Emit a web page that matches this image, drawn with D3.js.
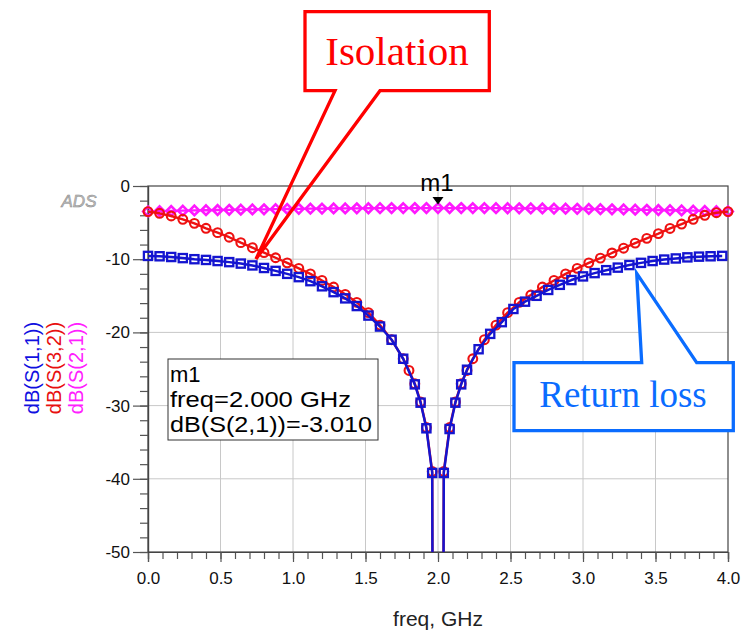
<!DOCTYPE html>
<html>
<head>
<meta charset="utf-8">
<script src="https://cdn.jsdelivr.net/npm/d3@7"></script>
<style>
  html, body { margin: 0; padding: 0; background: #fff; }
  svg { display: block; }
</style>
</head>
<body>
<svg id="chart" width="752" height="631"></svg>
<script>
// ---------------- DATA ----------------
// dB(S(1,1)) – return loss (blue squares)
const s11Freq = [0,0.08,0.16,0.24,0.32,0.40,0.48,0.56,0.64,0.72,0.80,0.88,0.96,1.04,1.12,1.20,1.28,1.36,1.44,1.52,1.60,1.68,1.76,1.84,
  1.88,1.92,1.96,2.00,2.04,2.08,2.12,2.16,2.20,
  2.28,2.36,2.44,2.52,2.60,2.68,2.76,2.84,2.92,3.00,3.08,3.16,3.24,3.32,3.40,3.48,3.56,3.64,3.72,3.80,3.88,3.96];
const s11dB = [-9.55,-9.6,-9.7,-9.85,-10.0,-10.1,-10.25,-10.4,-10.6,-10.85,-11.2,-11.6,-12.0,-12.45,-13.0,-13.7,-14.5,-15.35,-16.4,-17.7,-19.2,-21.0,-23.6,-27.1,
  -29.6,-33.1,-39.2,-300,-39.2,-33.2,-29.6,-27.1,-25.1,
  -22.3,-20.2,-18.6,-16.8,-15.8,-15.0,-14.2,-13.5,-12.85,-12.35,-11.9,-11.5,-11.15,-10.8,-10.5,-10.25,-10.05,-9.9,-9.75,-9.65,-9.6,-9.55];

// dB(S(3,2)) – isolation (red circles)
const s32Freq = [0,0.08,0.16,0.24,0.32,0.40,0.48,0.56,0.64,0.72,0.80,0.88,0.96,1.04,1.12,1.20,1.28,1.36,1.44,1.52,1.60,1.68,1.76,
  1.80,1.84,1.88,1.92,1.96,2.00,2.04,2.08,2.12,2.16,2.20,2.24,
  2.32,2.40,2.48,2.56,2.64,2.72,2.80,2.88,2.96,3.04,3.12,3.20,3.28,3.36,3.44,3.52,3.60,3.68,3.76,3.84,3.92,4.00];
const s32dB = [-3.5,-3.73,-4.1,-4.55,-5.1,-5.78,-6.37,-7.0,-7.74,-8.43,-9.1,-9.8,-10.5,-11.25,-12.0,-12.9,-13.8,-14.8,-15.9,-17.3,-19.0,-21.0,-23.6,
  -25.2,-27.0,-29.5,-33.0,-39.0,-300,-39.0,-33.0,-29.5,-27.0,-25.2,-23.6,
  -21.0,-19.0,-17.3,-15.9,-14.9,-13.8,-12.9,-12.0,-11.25,-10.5,-9.85,-9.15,-8.5,-7.8,-7.15,-6.5,-5.8,-5.2,-4.55,-4.0,-3.65,-3.5];

// dB(S(2,1)) – transmission (magenta diamonds)
const s21Freq = [0,0.08,0.16,0.24,0.32,0.40,0.48,0.56,0.64,0.72,0.80,0.88,0.96,1.04,1.12,1.20,1.28,1.36,1.44,1.52,1.60,1.68,1.76,1.84,1.92,
  2.00,2.08,2.16,2.24,2.32,2.40,2.48,2.56,2.64,2.72,2.80,2.88,2.96,3.04,3.12,3.20,3.28,3.36,3.44,3.52,3.60,3.68,3.76,3.84,3.92,4.00];
const s21dB = [-3.48,-3.44,-3.41,-3.37,-3.34,-3.31,-3.28,-3.25,-3.23,-3.20,-3.18,-3.16,-3.14,-3.12,-3.10,-3.09,-3.07,-3.06,-3.05,-3.04,-3.03,-3.02,-3.02,-3.01,-3.01,
  -3.01,-3.01,-3.01,-3.02,-3.02,-3.03,-3.04,-3.05,-3.06,-3.07,-3.09,-3.10,-3.12,-3.14,-3.16,-3.18,-3.20,-3.23,-3.25,-3.28,-3.31,-3.34,-3.37,-3.41,-3.44,-3.48];

const seriesNames = ["dB(S(1,1))", "dB(S(3,2))", "dB(S(2,1))"];
const xMajorTicks = [0,0.5,1.0,1.5,2.0,2.5,3.0,3.5,4.0];
const yMajorTicks = [0,-10,-20,-30,-40,-50];
const markerName = "m1";
const markerFreq = 2.0;
const markerValue = -3.010;
const markerLines = ["m1", "freq=2.000 GHz", "dB(S(2,1))=-3.010"];
const xTitle = "freq, GHz";
const calloutIso = "Isolation";
const calloutRL = "Return loss";

// ---------------- LAYOUT ----------------
const svg = d3.select("#chart");
const X0 = 148, X1 = 728, Y0 = 186, Y1 = 552;
const x = d3.scaleLinear().domain([0, 4]).range([X0, X1]);
const y = d3.scaleLinear().domain([-50, 0]).range([Y1, Y0]);
const sans = "'Liberation Sans', Arial, Helvetica, sans-serif";
const serif = "'Liberation Serif', 'Times New Roman', serif";

svg.append("rect").attr("width", 752).attr("height", 631).attr("fill", "#fff");

// grid
const grid = svg.append("g").attr("stroke", "#c8c8c8").attr("stroke-width", 1);
xMajorTicks.filter(d => d > 0 && d < 4).forEach(d => {
  grid.append("line").attr("x1", x(d)).attr("x2", x(d)).attr("y1", Y0).attr("y2", Y1);
});
yMajorTicks.filter(d => d < 0 && d > -50).forEach(d => {
  grid.append("line").attr("x1", X0).attr("x2", X1).attr("y1", y(d)).attr("y2", y(d));
});

// frame
svg.append("rect").attr("x", X0).attr("y", Y0).attr("width", X1 - X0).attr("height", Y1 - Y0)
  .attr("fill", "none").attr("stroke", "#444").attr("stroke-width", 1.2);

// axes
const xMinor = d3.range(0, 41).map(i => i / 10);
const yMinor = d3.range(0, 26).map(i => -i * 2);

const axX = svg.append("g").attr("transform", `translate(0,${Y1})`);
axX.call(d3.axisBottom(x).tickValues(xMinor).tickSize(7).tickFormat(""));
const axXMaj = svg.append("g").attr("transform", `translate(0,${Y1})`);
axXMaj.call(d3.axisBottom(x).tickValues(xMajorTicks).tickSize(10).tickPadding(10).tickFormat(d3.format(".1f")));
const axY = svg.append("g").attr("transform", `translate(${X0},0)`);
axY.call(d3.axisLeft(y).tickValues(yMinor).tickSize(8).tickFormat(""));
const axYMaj = svg.append("g").attr("transform", `translate(${X0},0)`);
axYMaj.call(d3.axisLeft(y).tickValues(yMajorTicks).tickSize(15).tickPadding(3).tickFormat(d => String(d)));

[axX, axXMaj, axY, axYMaj].forEach(g => {
  g.select(".domain").attr("stroke", "#444").attr("stroke-width", 1.2);
  g.selectAll(".tick line").attr("stroke", "#555").attr("stroke-width", 1.2);
  g.selectAll(".tick text").attr("font-family", sans).attr("font-size", 17).attr("fill", "#111");
});

// x title
svg.append("text").attr("x", x(2)).attr("y", 626).attr("text-anchor", "middle")
  .attr("font-family", sans).attr("font-size", 21).attr("fill", "#222").text(xTitle);

// ADS logo
svg.append("text").attr("x", 79).attr("y", 207).attr("text-anchor", "middle")
  .attr("font-family", sans).attr("font-size", 17).attr("font-style", "italic")
  .attr("fill", "#bdbdbd").attr("stroke", "#8a8a8a").attr("stroke-width", 0.5).text("ADS");

// y labels
const yLabColors = ["#1010e0", "#e81010", "#ff20ff"];
const yLabX = [39, 61, 83];
seriesNames.forEach((n, i) => {
  svg.append("text").attr("transform", `translate(${yLabX[i]},368) rotate(-90)`)
    .attr("text-anchor", "middle").attr("font-family", sans).attr("font-size", 20)
    .attr("fill", yLabColors[i]).text(n);
});

// clip
svg.append("defs").append("clipPath").attr("id", "plotclip")
  .append("rect").attr("x", X0 - 7).attr("y", Y0 - 7).attr("width", X1 - X0 + 14).attr("height", Y1 - Y0 + 7);

const plot = svg.append("g").attr("clip-path", "url(#plotclip)");
const line = d3.line().x(d => x(d[0])).y(d => y(d[1]));

function drawSeries(freqs, vals, color, lw, shape) {
  const data = freqs.map((f, i) => [f, vals[i]]);
  plot.append("path").datum(data).attr("d", line).attr("fill", "none")
    .attr("stroke", color).attr("stroke-width", lw).attr("stroke-linejoin", "round");
  const vis = data.filter(d => d[1] >= -50);
  const g = plot.append("g");
  if (shape === "square") {
    g.selectAll("rect").data(vis).join("rect")
      .attr("x", d => x(d[0]) - 4.1).attr("y", d => y(d[1]) - 4.1)
      .attr("width", 8.2).attr("height", 8.2)
      .attr("fill", "none").attr("stroke", color).attr("stroke-width", 2.3);
  } else if (shape === "circle") {
    g.selectAll("circle").data(vis).join("circle")
      .attr("cx", d => x(d[0])).attr("cy", d => y(d[1])).attr("r", 4.4)
      .attr("fill", "none").attr("stroke", color).attr("stroke-width", 2.1);
  } else {
    g.selectAll("path").data(vis).join("path")
      .attr("d", d => { const cx = x(d[0]), cy = y(d[1]), r = 4.8;
        return `M${cx},${cy - r}L${cx + r},${cy}L${cx},${cy + r}L${cx - r},${cy}Z`; })
      .attr("fill", "none").attr("stroke", color).attr("stroke-width", 2.6);
  }
}
drawSeries(s21Freq, s21dB, "#ff18ff", 2.3, "diamond");
drawSeries(s32Freq, s32dB, "#ee1111", 2.4, "circle");
drawSeries(s11Freq, s11dB, "#1414d0", 2.5, "square");

// marker m1
const mx = x(markerFreq), my = y(markerValue);
svg.append("path").attr("d", `M${mx - 5.5},${my - 11}L${mx + 5.5},${my - 11}L${mx},${my - 3.5}Z`).attr("fill", "#000");
svg.append("text").attr("x", mx - 1).attr("y", 191).attr("text-anchor", "middle")
  .attr("font-family", sans).attr("font-size", 24).attr("fill", "#000").text(markerName);

// marker readout box
svg.append("rect").attr("x", 168).attr("y", 359).attr("width", 210).attr("height", 81)
  .attr("fill", "#fff").attr("stroke", "#333").attr("stroke-width", 1);
const markerWidths = [null, 181, 202];
markerLines.forEach((t, i) => {
  const tx = svg.append("text").attr("x", 170).attr("y", 382 + i * 25)
    .attr("font-family", sans).attr("font-size", 22).attr("fill", "#000").text(t);
  if (markerWidths[i]) tx.attr("textLength", markerWidths[i]).attr("lengthAdjust", "spacingAndGlyphs");
});

// Isolation callout
const isoC = "#ff0000";
svg.append("path")
  .attr("d", "M335,90.7 L305,90.7 L305,11.7 L489.3,11.7 L489.3,90.7 L380,90.7 L256,259 Z")
  .attr("fill", "none").attr("stroke", isoC).attr("stroke-width", 3.3).attr("stroke-linejoin", "miter");
svg.append("text").attr("x", 397).attr("y", 65).attr("text-anchor", "middle")
  .attr("font-family", serif).attr("font-size", 41).attr("fill", isoC).text(calloutIso);

// Return loss callout
const rlC = "#0a6cff";
svg.append("path")
  .attr("d", "M641.7,362.7 L514,362.7 L514,430.7 L733.3,430.7 L733.3,362.7 L696.7,362.7 L636.7,273.3 Z")
  .attr("fill", "#fff").attr("stroke", rlC).attr("stroke-width", 3.3).attr("stroke-linejoin", "miter");
svg.append("text").attr("x", 623).attr("y", 407).attr("text-anchor", "middle")
  .attr("font-family", serif).attr("font-size", 37).attr("fill", rlC).text(calloutRL);
</script>
</body>
</html>
